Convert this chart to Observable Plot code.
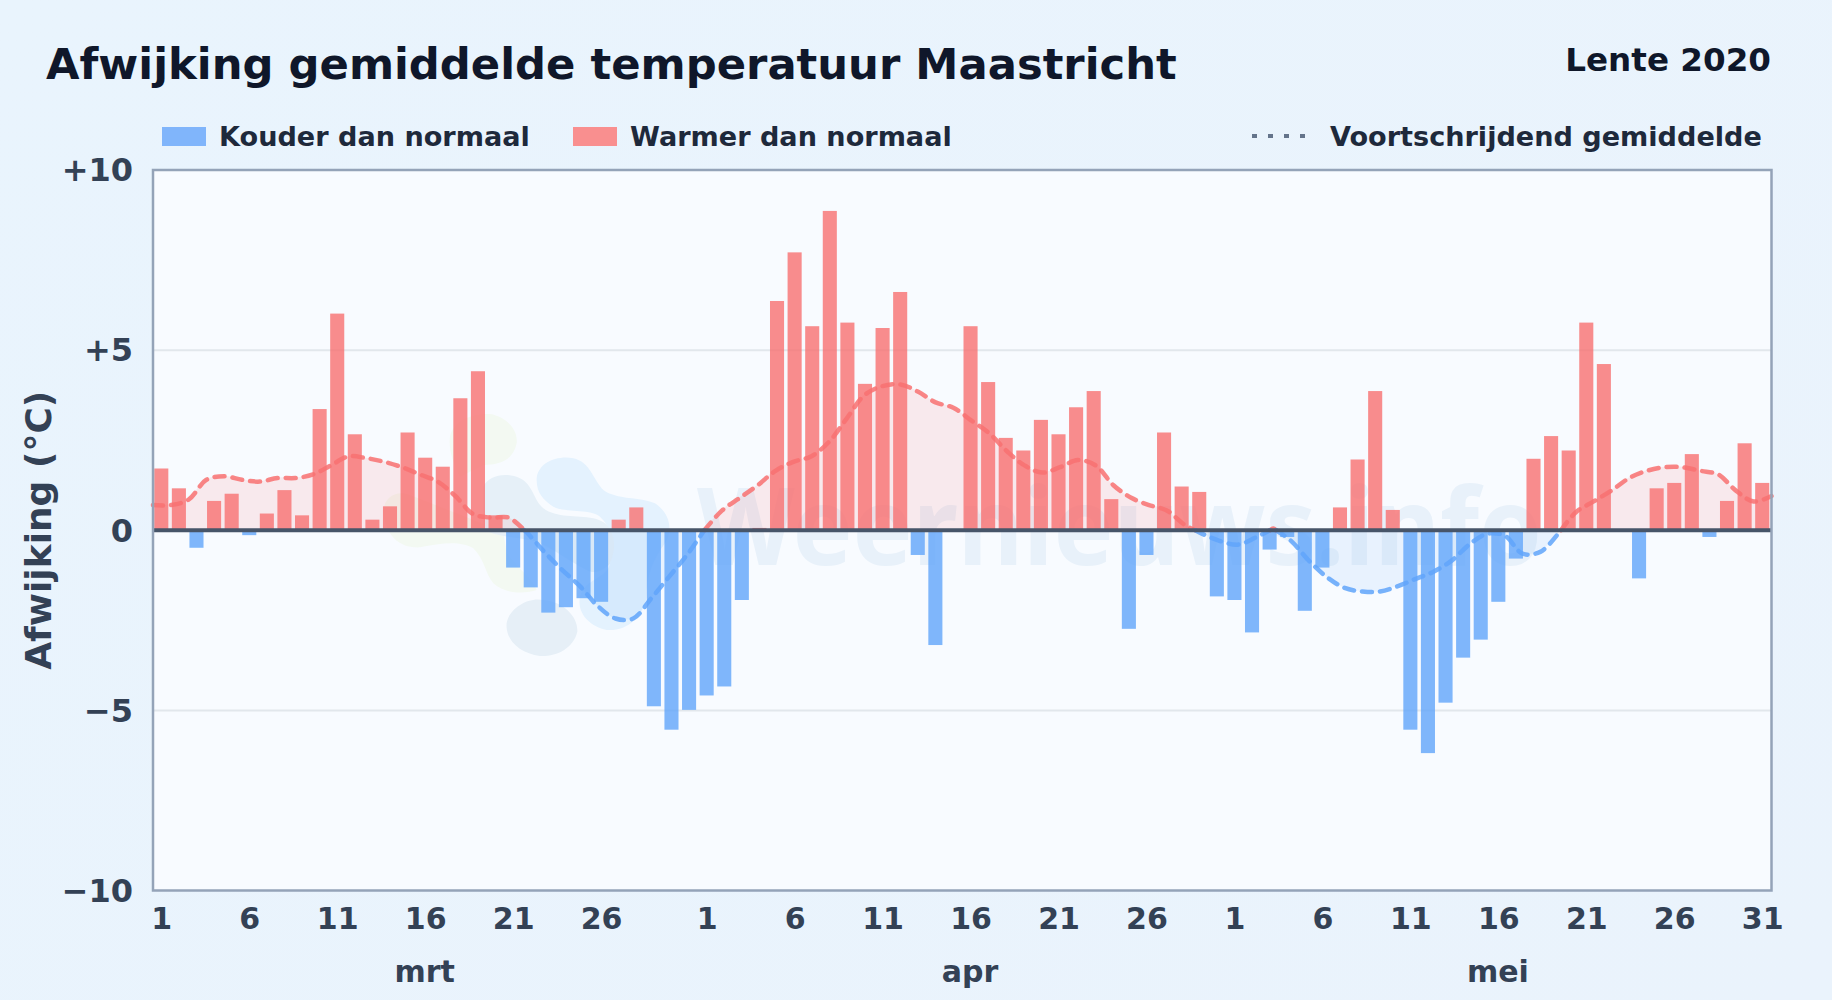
<!DOCTYPE html>
<html lang="nl">
<head>
<meta charset="utf-8">
<script src="https://cdn.jsdelivr.net/npm/d3@7"></script>
<script src="https://cdn.jsdelivr.net/npm/@observablehq/plot@0.6"></script>
<style>
  html, body { margin: 0; padding: 0; }
  body { width: 1832px; height: 1000px; overflow: hidden; position: relative;
         background: linear-gradient(135deg, #e9f4fd, #eaf3fc);
         font-family: "DejaVu Sans", sans-serif; font-weight: 700; }
  #panel { position: absolute; left: 152px; top: 169px; width: 1619px; height: 721px; background: #f8fbff; }
  #wm { position: absolute; left: 0; top: 150px; width: 1832px; height: 850px; }
  #chart { position: absolute; left: 0; top: 150px; }
  #chart svg { background: transparent; display: block; }
  .h { position: absolute; white-space: nowrap; }
  #title { left: 46px; top: 38px; font-size: 43.3px; line-height: 52px; color: #0f172a; }
  #season { right: 61px; top: 41px; font-size: 32.6px; line-height: 38px; color: #0f172a; }
  .lg { font-size: 27.1px; line-height: 30px; top: 122px; color: #1e293b; }
  .sw { position: absolute; top: 127px; height: 19px; width: 44px; }
</style>
</head>
<body>
<div id="panel"></div>
<svg id="wm" viewBox="0 150 1832 850" aria-hidden="true">
  <g transform="translate(360 400) scale(0.3333)">
    <path d="M270 110 C280 60 340 40 390 42 C440 50 475 90 470 130 C460 180 420 195 370 195 L300 230 C280 190 265 150 270 110Z" fill="#f3f9f2"/>
    <path d="M70 330 C75 290 110 270 150 285 L430 395 L440 460 C470 500 520 540 530 570 C500 580 440 585 400 550 C375 520 375 480 340 445 C300 420 240 430 180 442 C120 445 75 410 70 330Z" fill="#f3f9f2"/>
    <path d="M370 260 C385 225 440 215 480 235 C520 255 520 300 550 325 C590 355 650 345 700 355 C760 370 785 420 770 460 C755 500 710 530 680 510 C620 480 560 430 510 420 C450 410 420 410 370 390Z" fill="#e6f0f8"/>
    <path d="M530 240 C530 190 590 165 640 175 C690 185 700 240 730 270 C770 300 840 290 885 310 C930 340 940 390 915 430 C880 480 860 520 860 590 C850 650 800 695 740 690 C690 680 650 640 660 590 C680 530 740 540 750 490 C770 440 770 400 720 350 C690 325 620 340 580 320 C550 300 530 280 530 240Z" fill="#e4f2fe"/>
    <path d="M440 670 C445 630 500 590 550 600 C610 605 655 650 652 695 C640 745 590 770 540 768 C480 760 435 720 440 670Z" fill="#e6eff7"/>
  </g>
  <text x="697" y="565" font-family="Noto Sans" font-size="108" font-weight="700" fill="#e8f1fa" textLength="845" lengthAdjust="spacingAndGlyphs">Weernieuws.info</text>
</svg>
<div id="chart"></div>
<div class="h" id="title">Afwijking gemiddelde temperatuur Maastricht</div>
<div class="h" id="season">Lente 2020</div>
<div class="sw" style="left:162px;background:#80b5fb"></div>
<div class="h lg" style="left:219px">Kouder dan normaal</div>
<div class="sw" style="left:573px;background:#f98f8f"></div>
<div class="h lg" style="left:630px">Warmer dan normaal</div>
<svg class="h" style="left:1252px;top:130px" width="60" height="12"><line x1="0" y1="6" x2="60" y2="6" stroke="#64748b" stroke-width="4" stroke-dasharray="5 11"/></svg>
<div class="h lg" style="left:1330px">Voortschrijdend gemiddelde</div>
<script>
const anomaly = [
  1.7,1.15,-0.5,0.8,1.0,-0.15,0.45,1.1,0.4,3.35,6.0,2.65,0.28,0.65,2.7,2.0,1.75,3.65,4.4,0.4,-1.05,-1.6,-2.3,-2.15,-1.9,-2.0,0.28,0.62,-4.9,-5.55,-5.0,
  -4.6,-4.35,-1.95,0.05,6.35,7.7,5.65,8.85,5.75,4.05,5.6,6.6,-0.7,-3.2,0,5.65,4.1,2.55,2.2,3.05,2.65,3.4,3.85,0.85,-2.75,-0.7,2.7,1.2,1.05,-1.85,
  -1.95,-2.85,-0.55,-0.2,-2.25,-1.05,0.62,1.95,3.85,0.55,-5.55,-6.2,-4.8,-3.55,-3.05,-2.0,-0.8,1.97,2.6,2.2,5.75,4.6,-0.05,-1.35,1.15,1.3,2.1,-0.2,0.8,2.4,1.3
];
const rolling = [
  0.7,0.7,0.85,1.4,1.5,1.4,1.35,1.45,1.45,1.55,1.8,2.05,2.0,1.9,1.75,1.55,1.35,0.95,0.45,0.35,0.35,-0.05,-0.6,-1.1,-1.55,-2.1,-2.45,-2.45,-1.9,-1.3,-0.7,
  0.0,0.55,0.9,1.25,1.65,1.9,2.05,2.45,3.1,3.75,4.0,4.05,3.85,3.55,3.4,3.05,2.7,2.2,1.8,1.6,1.75,1.95,1.8,1.25,0.9,0.7,0.55,0.15,-0.1,-0.3,
  -0.4,-0.2,0.05,-0.3,-0.85,-1.3,-1.6,-1.7,-1.7,-1.55,-1.35,-1.15,-0.85,-0.4,-0.1,-0.15,-0.65,-0.6,-0.1,0.5,0.8,1.1,1.45,1.65,1.75,1.75,1.65,1.55,1.1,0.8,0.95
];
const monthLengths = [31, 30, 31];
const monthNames = ["mrt", "apr", "mei"];
const dayTicks = [1, 6, 11, 16, 21, 26];
const yTicks = [10, 5, 0, -5, -10];
const gridLevels = [5, -5];

const nDays = anomaly.length;
const xTickPos = [], xTickLab = [], monthPos = [];
let offset = 0;
monthLengths.forEach((len) => {
  dayTicks.forEach((d) => { xTickPos.push(offset + d - 0.5); xTickLab.push(String(d)); });
  if (len === 31 && offset + len === nDays) { xTickPos.push(offset + 30.5); xTickLab.push("31"); }
  monthPos.push(offset + 15.5);
  offset += len;
});
const bars = anomaly.map((v, i) => ({i, v}));

// Rolling mean spans the full frame width; split into runs at zero crossings.
const pts = rolling.map((v, i) => ({x: i * nDays / (nDays - 1), v}));
const runs = [];
let run = null;
pts.forEach((p, k) => {
  const s = p.v >= 0 ? 1 : -1;
  if (run && run.s !== s) {
    const a = pts[k - 1], t = a.v / (a.v - p.v), c = {x: a.x + t * (p.x - a.x), v: 0};
    run.pts.push(c);
    runs.push(run);
    run = {s, pts: [c]};
  } else if (!run) run = {s, pts: []};
  run.pts.push(p);
});
runs.push(run);
const seg = runs.flatMap((r, id) => r.pts.map((p) => ({...p, id, s: r.s})));
const pos = seg.filter((d) => d.s > 0), neg = seg.filter((d) => d.s < 0);

const fmtY = (d) => d > 0 ? "+" + d : d < 0 ? "\u2212" + (-d) : "0";
const tickFill = {fontWeight: 700, fill: "#334155"};
const curve = "catmull-rom";

const plot = Plot.plot({
  width: 1832, height: 850,
  marginLeft: 152.5, marginRight: 61, marginTop: 19.5, marginBottom: 110,
  style: {background: "transparent", fontFamily: "'DejaVu Sans', sans-serif"},
  x: {type: "linear", domain: [0, nDays], axis: null},
  y: {domain: [-10, 10], axis: null},
  marks: [
    Plot.ruleY(gridLevels, {stroke: "#e2e7ec", strokeWidth: 2}),
    Plot.areaY(pos, {x: "x", y1: 0, y2: "v", z: "id", curve, fill: "#f87171", fillOpacity: 0.13}),
    Plot.areaY(neg, {x: "x", y1: 0, y2: "v", z: "id", curve, fill: "#60a5fa", fillOpacity: 0.1}),
    Plot.rectY(bars, {x1: (d) => d.i + 0.1, x2: (d) => d.i + 0.9, y1: 0, y2: "v",
      fill: (d) => d.v >= 0 ? "#f87171" : "#60a5fa", fillOpacity: 0.8}),
    Plot.line(pos, {x: "x", y: "v", z: "id", curve, stroke: "#f87171", strokeWidth: 4.5, strokeOpacity: 0.85, strokeDasharray: "10 8"}),
    Plot.line(neg, {x: "x", y: "v", z: "id", curve, stroke: "#60a5fa", strokeWidth: 4.5, strokeOpacity: 0.85, strokeDasharray: "10 8"}),
    Plot.ruleY([0], {stroke: "#475569", strokeWidth: 4}),
    Plot.frame({stroke: "#94a3b8", strokeWidth: 2.5}),
    Plot.axisY({ticks: yTicks, tickFormat: fmtY, tickSize: 0, tickPadding: 20, dy: 1, label: null, fontSize: 32, ...tickFill}),
    Plot.axisX({ticks: xTickPos, tickFormat: (d) => xTickLab[xTickPos.indexOf(d)], tickSize: 0, tickPadding: 17, label: null, fontSize: 30, ...tickFill}),
    Plot.text(monthNames, {x: (d, i) => monthPos[i], text: (d) => d, frameAnchor: "bottom", dy: 91, dx: -1, fontSize: 30, ...tickFill}),
    Plot.text(["Afwijking (\u00b0C)"], {frameAnchor: "left", dx: -114, rotate: -90, fontSize: 36, fontWeight: 700, fill: "#334155", textAnchor: "middle"})
  ]
});
document.getElementById("chart").appendChild(plot);
</script>
</body>
</html>
